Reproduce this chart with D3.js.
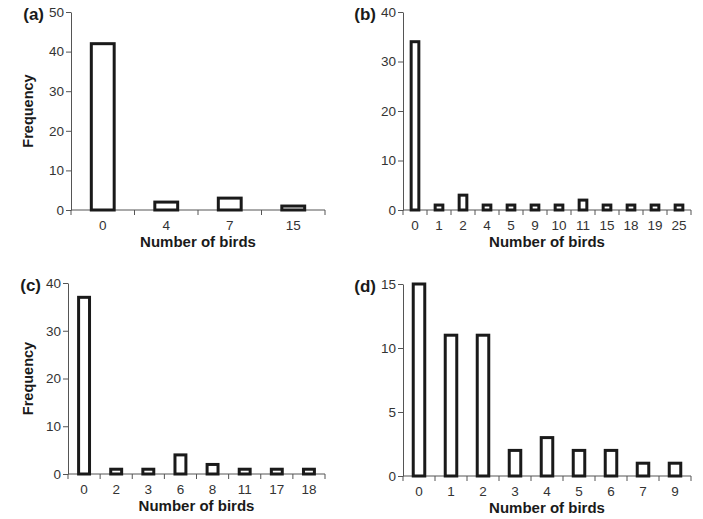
<!DOCTYPE html>
<html>
<head>
<meta charset="utf-8">
<script src="https://cdn.jsdelivr.net/npm/d3@7"></script>
<style>
  body { margin: 0; background: #fff; }
  svg { display: block; font-family: "Liberation Sans", Arial, Helvetica, sans-serif; }
</style>
</head>
<body>
<div id="chart-area"></div>
<script>
// data
var catsA = ["0", "4", "7", "15"]
var freqA = [42, 2, 3, 1]
var ticksA = [0, 10, 20, 30, 40, 50]

var catsB = ["0", "1", "2", "4", "5", "9", "10", "11", "15", "18", "19", "25"]
var freqB = [34, 1, 3, 1, 1, 1, 1, 2, 1, 1, 1, 1]
var ticksB = [0, 10, 20, 30, 40]

var catsC = ["0", "2", "3", "6", "8", "11", "17", "18"]
var freqC = [37, 1, 1, 4, 2, 1, 1, 1]
var ticksC = [0, 10, 20, 30, 40]

var catsD = ["0", "1", "2", "3", "4", "5", "6", "7", "9"]
var freqD = [15, 11, 11, 2, 3, 2, 2, 1, 1]
var ticksD = [0, 5, 10, 15]

var panels = [
    {tag: "(a)", cats: catsA, vals: freqA, ticks: ticksA, ylab: true,
     left: 71, right: 325, top: 12, bottom: 210, bar: 0.36},
    {tag: "(b)", cats: catsB, vals: freqB, ticks: ticksB, ylab: false,
     left: 403, right: 691, top: 12, bottom: 210, bar: 0.32},
    {tag: "(c)", cats: catsC, vals: freqC, ticks: ticksC, ylab: true,
     left: 68, right: 325, top: 283, bottom: 474, bar: 0.34},
    {tag: "(d)", cats: catsD, vals: freqD, ticks: ticksD, ylab: false,
     left: 403, right: 691, top: 284, bottom: 476, bar: 0.36}
]

var svg = d3.select("#chart-area").append("svg")
    .attr("width", 703)
    .attr("height", 519)

panels.forEach(function(p) {
    var g = svg.append("g")

    var x = d3.scaleBand()
        .domain(p.cats)
        .range([p.left, p.right])

    var y = d3.scaleLinear()
        .domain([0, d3.max(p.ticks)])
        .range([p.bottom, p.top])

    // y axis
    var yAxis = g.append("g")
        .attr("transform", "translate(" + p.left + ",0)")
        .call(d3.axisLeft(y).tickValues(p.ticks).tickSize(5).tickSizeOuter(0).tickPadding(2))
    yAxis.select(".domain").attr("stroke", "#555")
    yAxis.selectAll(".tick line").attr("stroke", "#555")
    yAxis.selectAll("text")
        .attr("font-size", 13.5)
        .attr("fill", "#333")

    // x axis: ticks sit on the band edges
    var edges = p.cats.map(function(c) { return x(c) }).concat([p.right])
    g.append("line")
        .attr("x1", p.left).attr("x2", p.right)
        .attr("y1", p.bottom).attr("y2", p.bottom)
        .attr("stroke", "#555")
    g.selectAll(".xtick")
        .data(edges)
        .enter().append("line")
        .attr("class", "xtick")
        .attr("x1", function(d) { return d }).attr("x2", function(d) { return d })
        .attr("y1", p.bottom).attr("y2", p.bottom + 5)
        .attr("stroke", "#555")
    g.selectAll(".xlab")
        .data(p.cats)
        .enter().append("text")
        .attr("class", "xlab")
        .attr("x", function(d) { return x(d) + x.bandwidth() / 2 })
        .attr("y", p.bottom + 20)
        .attr("text-anchor", "middle")
        .attr("font-size", 13.5)
        .attr("fill", "#333")
        .text(function(d) { return d })

    // bars
    var bw = x.bandwidth() * p.bar
    g.selectAll(".bar")
        .data(p.vals)
        .enter().append("rect")
        .attr("class", "bar")
        .attr("x", function(d, i) { return x(p.cats[i]) + (x.bandwidth() - bw) / 2 })
        .attr("width", bw)
        .attr("y", function(d) { return y(d) })
        .attr("height", function(d) { return p.bottom - y(d) })
        .attr("fill", "#fff")
        .attr("stroke", "#1a1a1a")
        .attr("stroke-width", 3)

    // titles
    g.append("text")
        .attr("x", (p.left + p.right) / 2)
        .attr("y", p.bottom + 37)
        .attr("text-anchor", "middle")
        .attr("font-size", 15)
        .attr("font-weight", "bold")
        .attr("fill", "#1a1a1a")
        .text("Number of birds")

    if (p.ylab) {
        g.append("text")
            .attr("transform", "translate(33," + ((p.top + p.bottom) / 2) + ") rotate(-90)")
            .attr("text-anchor", "middle")
            .attr("font-size", 14.5)
            .attr("font-weight", "bold")
            .attr("fill", "#1a1a1a")
            .text("Frequency")
    }

    g.append("text")
        .attr("x", p.left - 27)
        .attr("y", p.top + 8)
        .attr("text-anchor", "end")
        .attr("font-size", 17)
        .attr("font-weight", "bold")
        .attr("fill", "#1a1a1a")
        .text(p.tag)
})
</script>
</body>
</html>
